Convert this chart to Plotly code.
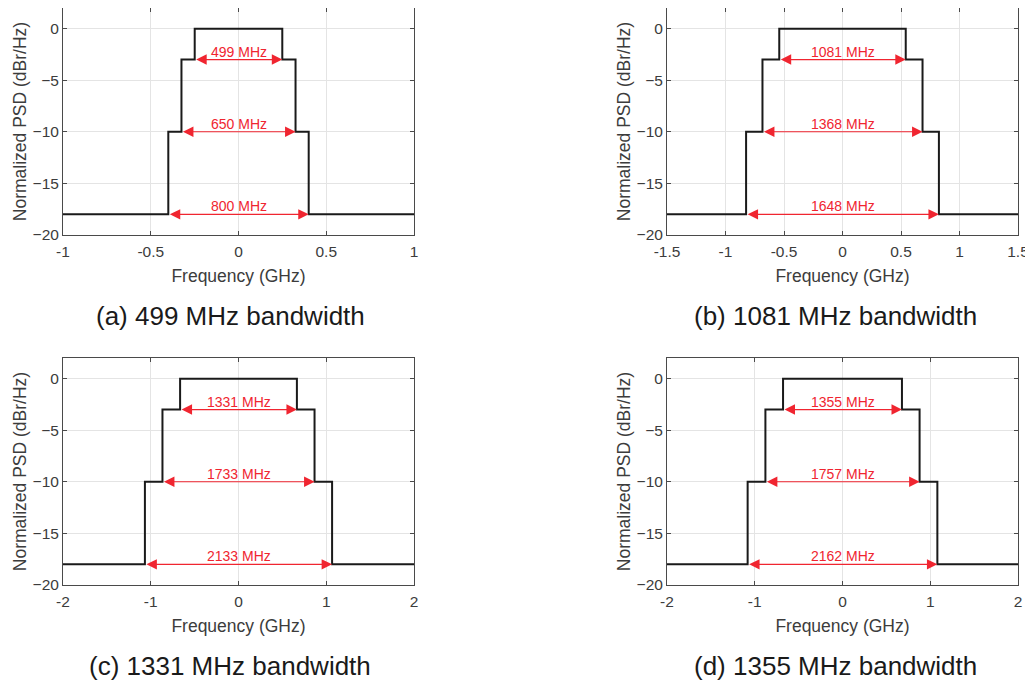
import plotly.graph_objects as go

# ---- data ----
captions = ["(a) 499 MHz bandwidth", "(b) 1081 MHz bandwidth",
            "(c) 1331 MHz bandwidth", "(d) 1355 MHz bandwidth"]
widths_a = [499, 650, 800]      # MHz at 0 / -3 / -10 dB steps
widths_b = [1081, 1368, 1648]
widths_c = [1331, 1733, 2133]
widths_d = [1355, 1757, 2162]
levels = [0, -3, -10, -18]      # dBr/Hz
arrow_levels = [-3, -10, -18]
xlims = [1.0, 1.5, 2.0, 2.0]    # GHz half-span
xtick_steps = [0.5, 0.5, 1.0, 1.0]
yticks = [-20, -15, -10, -5, 0]

all_widths = [widths_a, widths_b, widths_c, widths_d]

# ---- layout geometry (pixels in the screenshot; page body has an 8px margin) ----
OFF = 8
W, H = 1033 - OFF, 682 - OFF
xdoms = [(63, 414), (667, 1018), (63, 414), (667, 1018)]
ydoms = [(8, 235), (8, 235), (358, 585), (358, 585)]
cap_x = [230, 835, 230, 835]

AXCOL = "#4a4a4a"
TXTCOL = "#3c3c3c"
RED = "#f02530"
FONT = "Liberation Sans, Arial, Helvetica, sans-serif"

fig = go.Figure()
annotations = []

for i in range(4):
    w = [v / 1000.0 for v in all_widths[i]]
    xm = xlims[i]
    xs = [-xm, -w[2] / 2, -w[2] / 2, -w[1] / 2, -w[1] / 2, -w[0] / 2, -w[0] / 2,
          w[0] / 2, w[0] / 2, w[1] / 2, w[1] / 2, w[2] / 2, w[2] / 2, xm]
    ys = [levels[3], levels[3], levels[2], levels[2], levels[1], levels[1], levels[0],
          levels[0], levels[1], levels[1], levels[2], levels[2], levels[3], levels[3]]
    xa = "x" if i == 0 else f"x{i+1}"
    ya = "y" if i == 0 else f"y{i+1}"
    fig.add_trace(go.Scatter(x=xs, y=ys, mode="lines", xaxis=xa, yaxis=ya,
                             line=dict(color="#1a1a1a", width=2), showlegend=False,
                             hoverinfo="skip"))
    for k, lv in enumerate(arrow_levels):
        annotations.append(dict(x=w[k] / 2, y=lv, ax=-w[k] / 2, ay=lv,
                                xref=xa, yref=ya, axref=xa, ayref=ya,
                                showarrow=True, arrowside="end+start", arrowhead=2,
                                arrowsize=1.9, arrowwidth=1.1, arrowcolor=RED,
                                standoff=0, startstandoff=0, text=""))
        annotations.append(dict(x=0, y=lv, xref=xa, yref=ya, showarrow=False,
                                text=f"{all_widths[i][k]} MHz", yanchor="middle",
                                yshift=8, font=dict(color=RED, size=14, family=FONT)))
    x0, x1 = xdoms[i]
    y0, y1 = ydoms[i]
    xd = [(x0 - OFF) / W, min(1.0, (x1 - OFF) / W)]
    yd = [1 - (y1 - OFF) / H, min(1.0, 1 - (y0 - OFF) / H)]
    step = xtick_steps[i]
    n = int(round(2 * xm / step))
    xt = [-xm + j * step for j in range(n + 1)]
    xtt = [("%g" % v) for v in xt]
    common = dict(showline=True, linecolor=AXCOL, linewidth=1, mirror="ticks",
                  ticks="inside", ticklen=4, tickcolor=AXCOL, showgrid=True,
                  gridcolor="#e4e4e4", gridwidth=1, zeroline=False, automargin=False,
                  tickfont=dict(size=15.5, color=TXTCOL, family=FONT))
    fig.layout[("xaxis" if i == 0 else f"xaxis{i+1}")] = dict(
        domain=xd, range=[-xm, xm], tickvals=xt, ticktext=xtt, anchor=ya,
        ticklabelstandoff=2,
        title=dict(text="Frequency (GHz)", standoff=11,
                   font=dict(size=17.5, color=TXTCOL, family=FONT)), **common)
    fig.layout[("yaxis" if i == 0 else f"yaxis{i+1}")] = dict(
        domain=yd, range=[-20, 2], tickvals=yticks, anchor=xa,
        ticklabelstandoff=0,
        title=dict(text="Normalized PSD (dBr/Hz)", standoff=1,
                   font=dict(size=17.5, color=TXTCOL, family=FONT)), **common)
    annotations.append(dict(x=(cap_x[i] - OFF) / W, y=1 - (y1 + 81 - OFF) / H,
                            xref="paper", yref="paper",
                            showarrow=False, text=captions[i], xanchor="center",
                            yanchor="middle",
                            font=dict(size=26, color="#1a1a1a", family=FONT)))

fig.update_layout(width=W, height=H, margin=dict(l=0, r=0, t=0, b=0, autoexpand=False),
                  paper_bgcolor="white", plot_bgcolor="white",
                  annotations=annotations)
fig.write_html("out.html")
